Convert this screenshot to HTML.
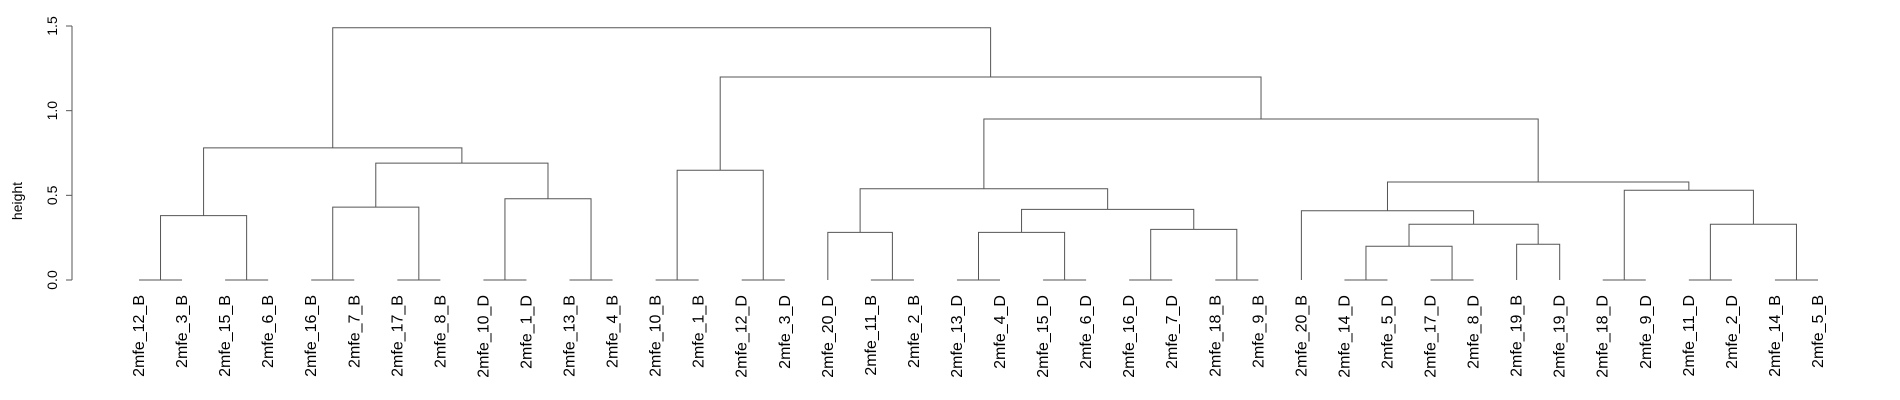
<!DOCTYPE html>
<html><head><meta charset="utf-8"><style>
html,body{margin:0;padding:0;background:#fff;}
svg{display:block;font-family:"Liberation Sans",Arial,sans-serif;}
</style></head><body>
<svg id="chart" width="1900" height="400" viewBox="0 0 1900 400">
<g id="axis"></g>
<g id="tree"></g>
<g id="labels"></g>
<text x="22" y="201" font-size="14" text-anchor="middle" transform="rotate(-90 22 201)" fill="#000">height</text>
</svg>
<script>
const leafLabels = ["2mfe_12_B","2mfe_3_B","2mfe_15_B","2mfe_6_B","2mfe_16_B","2mfe_7_B","2mfe_17_B","2mfe_8_B","2mfe_10_D","2mfe_1_D","2mfe_13_B","2mfe_4_B","2mfe_10_B","2mfe_1_B","2mfe_12_D","2mfe_3_D","2mfe_20_D","2mfe_11_B","2mfe_2_B","2mfe_13_D","2mfe_4_D","2mfe_15_D","2mfe_6_D","2mfe_16_D","2mfe_7_D","2mfe_18_B","2mfe_9_B","2mfe_20_B","2mfe_14_D","2mfe_5_D","2mfe_17_D","2mfe_8_D","2mfe_19_B","2mfe_19_D","2mfe_18_D","2mfe_9_D","2mfe_11_D","2mfe_2_D","2mfe_14_B","2mfe_5_B"];
// merges: negative = leaf (-(i+1)), positive = earlier merge (1-based)
const mergeLeft  = [-1,-3,-5,-7,-9,-11,-13,-15,-18,-20,-22,-24,-26,-29,-31,-35,-37,-39, 1, 3, 5,20,19, 7,-17,10,12,26,25,14,-33,30,-28,17,16,33,29,24,23];
const mergeRight = [-2,-4,-6,-8,-10,-12,-14,-16,-19,-21,-23,-25,-27,-30,-32,-36,-38,-40, 2, 4, 6,21,22, 8,  9,11,13,27,28,15,-34,31, 32,18,34,35,36,37,38];
const mergeHeight= [0,0,0,0,0,0,0,0,0,0,0,0,0,0,0,0,0,0,0.38,0.43,0.48,0.69,0.78,0.648,0.281,0.281,0.299,0.417,0.539,0.199,0.211,0.329,0.409,0.329,0.53,0.579,0.951,1.199,1.49];
const yTicks = [0, 0.5, 1, 1.5];
const yTickLabels = ["0.0","0.5","1.0","1.5"];

const NS="http://www.w3.org/2000/svg";
const x0=139, dx=(1818-139)/39;
const yZero=280, yTop=26, hMax=1.5;
function xLeaf(i){return x0+i*dx;}
function yScale(h){return yZero-(h/hMax)*(yZero-yTop);}
function mk(tag,attrs,parent){const e=document.createElementNS(NS,tag);for(const k in attrs)e.setAttribute(k,attrs[k]);parent.appendChild(e);return e;}

const axis=document.getElementById('axis');
let al=mk('line',{x1:72,x2:72,y1:yScale(yTicks[0]),y2:yScale(yTicks[yTicks.length-1]),stroke:'#555','stroke-width':1},axis);


yTicks.forEach((t,i)=>{
  const y=yScale(t);
  const tk=mk('line',{x1:66,x2:72,y1:y,y2:y,stroke:'#555','stroke-width':1},axis);
  
  
  const tx=mk('text',{x:57,y:y,'font-size':14,'text-anchor':'middle',transform:`rotate(-90 57 ${y})`,fill:'#000'},axis);
  
  
  tx.textContent=yTickLabels[i];
});

const tree=document.getElementById('tree');
const pos=[];
function nodeX(id){return id<0?xLeaf(-id-1):pos[id-1].x;}
function nodeH(id){return id<0?0:pos[id-1].h;}
for(let k=0;k<mergeLeft.length;k++){
  const a=mergeLeft[k], b=mergeRight[k], h=mergeHeight[k];
  const xa=nodeX(a), xb=nodeX(b), y=yScale(h);
  const p=mk('path',{d:`M${xa},${yScale(nodeH(a))}V${y}H${xb}V${yScale(nodeH(b))}`,fill:'none',stroke:'#555','stroke-width':1},tree);
  
  
  pos.push({x:(xa+xb)/2,h:h});
}

const lab=document.getElementById('labels');
leafLabels.forEach((s,i)=>{
  const x=xLeaf(i)+5, y=295;
  const t=mk('text',{x:x,y:y,'font-size':16,'text-anchor':'end',transform:`rotate(-90 ${x} ${y})`,fill:'#000'},lab);
  
  
  t.textContent=s;
});
</script>
</body></html>
